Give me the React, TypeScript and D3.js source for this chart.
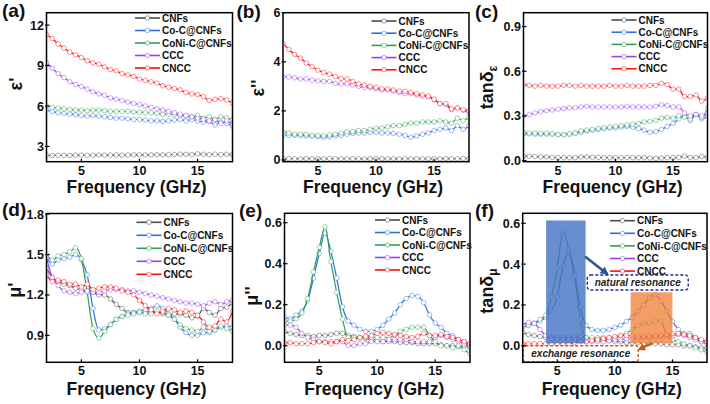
import React from 'react';
import * as d3 from 'd3';

const FREQ = [2, 2.5, 3, 3.5, 4, 4.5, 5, 5.5, 6, 6.5, 7, 7.5, 8, 8.5, 9, 9.5, 10, 10.5, 11, 11.5, 12, 12.5, 13, 13.5, 14, 14.5, 15, 15.5, 16, 16.5, 17, 17.5, 18];
const SERIES = ['CNFs', 'Co-C@CNFs', 'CoNi-C@CNFs', 'CCC', 'CNCC'];
const COLORS = ['#4d4d4d', '#2f6fe3', '#2ea04f', '#9a3ff0', '#ff1010'];

// (a) epsilon'
const EPS_R_CNFS = [2.35, 2.33, 2.35, 2.34, 2.33, 2.35, 2.36, 2.34, 2.35, 2.36, 2.35, 2.36, 2.37, 2.36, 2.37, 2.38, 2.38, 2.37, 2.38, 2.39, 2.38, 2.40, 2.41, 2.43, 2.42, 2.40, 2.45, 2.42, 2.39, 2.43, 2.40, 2.42, 2.40];
const EPS_R_COC = [5.70, 5.60, 5.50, 5.45, 5.40, 5.35, 5.30, 5.25, 5.30, 5.25, 5.20, 5.15, 5.10, 5.10, 5.05, 5.00, 5.00, 4.95, 4.90, 4.90, 4.85, 4.90, 4.95, 5.00, 4.90, 5.00, 4.90, 4.80, 4.85, 4.60, 4.80, 4.70, 4.50];
const EPS_R_CONIC = [6.00, 5.90, 5.85, 5.80, 5.75, 5.70, 5.70, 5.65, 5.70, 5.70, 5.65, 5.60, 5.60, 5.60, 5.60, 5.55, 5.55, 5.50, 5.50, 5.45, 5.40, 5.40, 5.35, 5.30, 5.25, 5.20, 5.30, 5.10, 5.20, 5.00, 5.20, 5.10, 5.00];
const EPS_R_CCC = [9.20, 8.80, 8.40, 8.10, 7.80, 7.60, 7.45, 7.25, 7.05, 6.90, 6.80, 6.60, 6.50, 6.40, 6.30, 6.20, 6.10, 6.00, 5.90, 5.80, 5.70, 5.60, 5.50, 5.40, 5.30, 5.20, 5.10, 5.00, 4.90, 5.00, 4.70, 4.90, 4.60];
const EPS_R_CNCC = [11.30, 11.00, 10.60, 10.30, 10.00, 9.80, 9.60, 9.35, 9.20, 9.10, 8.90, 8.70, 8.60, 8.40, 8.30, 8.20, 8.00, 7.90, 7.80, 7.70, 7.50, 7.40, 7.30, 7.20, 7.00, 6.90, 6.85, 6.70, 6.40, 6.50, 6.55, 6.45, 6.20];

// (b) epsilon''
const EPS_I_CNFS = [0.06, 0.06, 0.05, 0.05, 0.06, 0.05, 0.05, 0.05, 0.06, 0.05, 0.05, 0.05, 0.05, 0.05, 0.04, 0.05, 0.05, 0.05, 0.05, 0.05, 0.04, 0.05, 0.05, 0.05, 0.05, 0.05, 0.05, 0.05, 0.06, 0.05, 0.05, 0.06, 0.05];
const EPS_I_COC = [1.00, 1.00, 1.00, 1.00, 0.98, 0.97, 0.95, 0.93, 0.95, 0.98, 1.00, 1.05, 1.08, 1.10, 1.10, 1.12, 1.12, 1.10, 1.10, 1.08, 1.05, 1.00, 0.93, 0.98, 1.05, 1.10, 1.20, 1.25, 1.30, 1.20, 1.40, 1.25, 1.40];
const EPS_I_CONIC = [1.15, 1.10, 1.05, 1.05, 1.05, 1.00, 1.00, 0.98, 1.02, 1.05, 1.10, 1.15, 1.15, 1.20, 1.20, 1.25, 1.30, 1.30, 1.35, 1.40, 1.40, 1.45, 1.50, 1.50, 1.55, 1.55, 1.55, 1.60, 1.55, 1.50, 1.70, 1.60, 1.75];
const EPS_I_CCC = [3.40, 3.38, 3.35, 3.30, 3.30, 3.25, 3.22, 3.20, 3.20, 3.12, 3.10, 3.10, 3.05, 3.00, 2.95, 2.95, 2.90, 2.85, 2.85, 2.80, 2.75, 2.70, 2.70, 2.65, 2.60, 2.58, 2.45, 2.30, 2.25, 2.05, 2.12, 2.02, 1.95];
const EPS_I_CNCC = [4.75, 4.50, 4.30, 4.15, 3.95, 3.80, 3.66, 3.56, 3.50, 3.40, 3.32, 3.30, 3.20, 3.10, 3.05, 3.00, 2.96, 2.90, 2.90, 2.85, 2.80, 2.80, 2.75, 2.70, 2.65, 2.60, 2.48, 2.30, 2.30, 2.08, 2.12, 2.06, 2.00];

// (c) tan delta epsilon
const TDE_CNFS = [0.030, 0.030, 0.028, 0.025, 0.025, 0.022, 0.020, 0.020, 0.020, 0.020, 0.025, 0.025, 0.022, 0.022, 0.020, 0.020, 0.020, 0.020, 0.022, 0.020, 0.020, 0.020, 0.018, 0.015, 0.018, 0.020, 0.020, 0.022, 0.030, 0.022, 0.020, 0.028, 0.022];
const TDE_COC = [0.180, 0.180, 0.178, 0.178, 0.178, 0.178, 0.175, 0.175, 0.178, 0.185, 0.190, 0.200, 0.205, 0.210, 0.215, 0.220, 0.220, 0.225, 0.230, 0.225, 0.215, 0.205, 0.190, 0.195, 0.210, 0.230, 0.250, 0.280, 0.300, 0.270, 0.310, 0.280, 0.300];
const TDE_CONIC = [0.190, 0.185, 0.185, 0.185, 0.185, 0.180, 0.175, 0.175, 0.180, 0.185, 0.200, 0.205, 0.210, 0.215, 0.220, 0.225, 0.230, 0.235, 0.240, 0.245, 0.250, 0.260, 0.265, 0.270, 0.285, 0.290, 0.285, 0.300, 0.290, 0.280, 0.310, 0.290, 0.350];
const TDE_CCC = [0.300, 0.310, 0.320, 0.330, 0.335, 0.340, 0.345, 0.350, 0.355, 0.355, 0.360, 0.365, 0.360, 0.360, 0.360, 0.360, 0.360, 0.360, 0.365, 0.360, 0.360, 0.360, 0.360, 0.365, 0.375, 0.370, 0.360, 0.360, 0.320, 0.300, 0.310, 0.300, 0.320];
const TDE_CNCC = [0.510, 0.505, 0.500, 0.505, 0.500, 0.500, 0.500, 0.505, 0.505, 0.500, 0.505, 0.500, 0.500, 0.500, 0.500, 0.505, 0.500, 0.500, 0.505, 0.500, 0.500, 0.500, 0.505, 0.505, 0.520, 0.510, 0.480, 0.480, 0.430, 0.430, 0.440, 0.400, 0.420];

// (d) mu'
const MU_R_CNFS = [1.40, 1.33, 1.30, 1.28, 1.27, 1.25, 1.24, 1.23, 1.22, 1.20, 1.20, 1.17, 1.13, 1.10, 1.07, 1.07, 1.07, 1.07, 1.08, 1.07, 1.06, 1.05, 1.06, 1.06, 1.05, 1.03, 1.04, 1.10, 1.07, 1.05, 1.10, 1.11, 1.14];
const MU_R_COC = [1.48, 1.43, 1.46, 1.47, 1.48, 1.50, 1.46, 1.35, 1.10, 0.94, 0.95, 0.98, 1.02, 1.04, 1.06, 1.07, 1.08, 1.09, 1.10, 1.12, 1.10, 1.06, 1.02, 0.96, 0.92, 0.90, 0.90, 0.92, 0.92, 0.94, 0.96, 0.97, 0.96];
const MU_R_CONIC = [1.50, 1.46, 1.49, 1.50, 1.52, 1.55, 1.47, 1.22, 0.95, 0.88, 0.93, 0.98, 1.02, 1.04, 1.05, 1.06, 1.07, 1.06, 1.06, 1.08, 1.07, 1.05, 1.02, 0.98, 0.95, 0.94, 0.93, 0.96, 0.93, 0.94, 0.97, 0.95, 0.93];
const MU_R_CCC = [1.48, 1.33, 1.27, 1.23, 1.22, 1.21, 1.22, 1.23, 1.22, 1.22, 1.23, 1.24, 1.24, 1.24, 1.23, 1.23, 1.22, 1.21, 1.20, 1.19, 1.18, 1.17, 1.16, 1.15, 1.14, 1.14, 1.13, 1.12, 1.14, 1.15, 1.13, 1.15, 1.16];
const MU_R_CNCC = [1.35, 1.30, 1.31, 1.30, 1.28, 1.28, 1.26, 1.28, 1.24, 1.25, 1.26, 1.26, 1.25, 1.23, 1.22, 1.20, 1.16, 1.12, 1.09, 1.06, 1.08, 1.10, 1.09, 1.07, 1.08, 1.07, 1.05, 1.00, 0.96, 0.97, 1.02, 1.00, 1.08];

// (e) mu''
const MU_I_CNFS = [0.070, 0.060, 0.055, 0.050, 0.050, 0.045, 0.050, 0.050, 0.055, 0.060, 0.060, 0.050, 0.045, 0.040, 0.035, 0.030, 0.025, 0.020, 0.020, 0.020, 0.015, 0.015, 0.015, 0.010, 0.010, 0.010, 0.010, 0.005, 0.000, 0.000, -0.005, 0.000, -0.010];
const MU_I_COC = [0.14, 0.13, 0.15, 0.17, 0.22, 0.33, 0.45, 0.55, 0.46, 0.33, 0.19, 0.12, 0.10, 0.08, 0.07, 0.07, 0.08, 0.10, 0.13, 0.16, 0.20, 0.23, 0.245, 0.24, 0.21, 0.15, 0.11, 0.09, 0.06, 0.05, 0.03, 0.02, 0.00];
const MU_I_CONIC = [0.12, 0.12, 0.13, 0.16, 0.23, 0.36, 0.48, 0.58, 0.41, 0.26, 0.13, 0.04, 0.04, 0.04, 0.04, 0.04, 0.04, 0.04, 0.04, 0.05, 0.07, 0.08, 0.09, 0.09, 0.09, 0.05, 0.02, 0.00, 0.00, -0.01, 0.00, -0.02, -0.04];
const MU_I_CCC = [0.10, 0.10, 0.09, 0.06, 0.04, 0.03, 0.02, 0.02, 0.02, 0.02, 0.02, 0.00, 0.00, 0.01, 0.01, 0.02, 0.02, 0.02, 0.03, 0.03, 0.03, 0.03, 0.02, 0.02, 0.02, 0.02, 0.04, 0.05, 0.04, 0.03, 0.02, 0.01, 0.00];
const MU_I_CNCC = [0.015, 0.015, 0.010, 0.010, 0.010, 0.015, 0.020, 0.015, 0.010, 0.020, 0.030, 0.025, 0.030, 0.040, 0.045, 0.050, 0.060, 0.065, 0.060, 0.055, 0.050, 0.045, 0.040, 0.045, 0.060, 0.050, 0.050, 0.055, 0.045, 0.040, 0.030, 0.020, 0.010];

// (f) tan delta mu
const TDM_CNFS = [0.065, 0.055, 0.050, 0.045, 0.040, 0.040, 0.040, 0.040, 0.040, 0.045, 0.045, 0.040, 0.035, 0.030, 0.030, 0.025, 0.020, 0.020, 0.015, 0.015, 0.015, 0.010, 0.010, 0.010, 0.010, 0.005, 0.005, 0.005, 0.000, 0.000, -0.005, -0.010, -0.010];
const TDM_COC = [0.10, 0.10, 0.11, 0.12, 0.14, 0.17, 0.24, 0.39, 0.46, 0.36, 0.19, 0.10, 0.08, 0.075, 0.075, 0.08, 0.09, 0.10, 0.12, 0.14, 0.17, 0.20, 0.235, 0.25, 0.22, 0.17, 0.12, 0.08, 0.06, 0.06, 0.04, 0.02, 0.01];
const TDM_CONIC = [0.09, 0.10, 0.11, 0.13, 0.15, 0.24, 0.38, 0.56, 0.47, 0.34, 0.13, 0.04, 0.04, 0.04, 0.04, 0.04, 0.04, 0.05, 0.06, 0.08, 0.10, 0.11, 0.11, 0.12, 0.12, 0.05, 0.03, 0.02, 0.01, 0.00, -0.01, -0.02, -0.03];
const TDM_CCC = [0.10, 0.115, 0.11, 0.08, 0.05, 0.035, 0.03, 0.03, 0.03, 0.03, 0.025, 0.02, 0.02, 0.02, 0.02, 0.025, 0.03, 0.03, 0.035, 0.035, 0.035, 0.04, 0.04, 0.04, 0.045, 0.05, 0.05, 0.055, 0.05, 0.04, 0.03, 0.02, 0.02];
const TDM_CNCC = [0.01, 0.01, 0.01, 0.01, 0.01, 0.01, 0.01, 0.01, 0.01, 0.015, 0.02, 0.02, 0.025, 0.03, 0.035, 0.04, 0.045, 0.05, 0.05, 0.05, 0.045, 0.045, 0.045, 0.05, 0.05, 0.055, 0.06, 0.06, 0.055, 0.05, 0.04, 0.03, 0.02];

const X_TICKS = [5, 10, 15];
const TICKS_A = [3, 6, 9, 12];
const TICKS_B = [0, 2, 4, 6];
const TICKS_C = [0, 0.3, 0.6, 0.9];
const TICKS_D = [0.9, 1.2, 1.5, 1.8];
const TICKS_E = [0, 0.2, 0.4, 0.6];
const TICKS_F = [0, 0.2, 0.4, 0.6];

const FONT = 'Liberation Sans, Arial, Helvetica, sans-serif';

type Panel = {
  tag: string; tagX: number; tagY: number;
  left: number; right: number; top: number; bottom: number;
  yDomain: [number, number]; yTicks: number[]; fmt: string;
  data: number[][];
  yMain: string; ySub?: string; ylx: number; yly: number;
  xlY: number; legX: number; legY: number; legStep: number;
};

const PANELS: Panel[] = [
  { tag: '(a)', tagX: 2, tagY: 17, left: 46.5, right: 232.5, top: 12.7, bottom: 161.7, yDomain: [1.87, 12.92], yTicks: TICKS_A, fmt: 'd',
    data: [EPS_R_CNFS, EPS_R_COC, EPS_R_CONIC, EPS_R_CCC, EPS_R_CNCC], yMain: "ε'", ylx: 21.5, yly: 84, xlY: 193, legX: 135, legY: 18, legStep: 12.5 },
  { tag: '(b)', tagX: 236.5, tagY: 18, left: 283, right: 469, top: 12.7, bottom: 161.7, yDomain: [-0.07, 6.0], yTicks: TICKS_B, fmt: 'd',
    data: [EPS_I_CNFS, EPS_I_COC, EPS_I_CONIC, EPS_I_CCC, EPS_I_CNCC], yMain: "ε''", ylx: 263.5, yly: 88, xlY: 193, legX: 371.5, legY: 21, legStep: 12.2 },
  { tag: '(c)', tagX: 475, tagY: 18, left: 523.5, right: 707.5, top: 12.7, bottom: 161.7, yDomain: [-0.007, 0.993], yTicks: TICKS_C, fmt: '.1f',
    data: [TDE_CNFS, TDE_COC, TDE_CONIC, TDE_CCC, TDE_CNCC], yMain: 'tanδ', ySub: 'ε', ylx: 493, yly: 87.5, xlY: 193, legX: 611.5, legY: 20, legStep: 12.2 },
  { tag: '(d)', tagX: 2, tagY: 216, left: 46.5, right: 232.5, top: 213.5, bottom: 362.3, yDomain: [0.7, 1.805], yTicks: TICKS_D, fmt: '.1f',
    data: [MU_R_CNFS, MU_R_COC, MU_R_CONIC, MU_R_CCC, MU_R_CNCC], yMain: "μ'", ylx: 20.5, yly: 290, xlY: 394.5, legX: 136.5, legY: 222.3, legStep: 13 },
  { tag: '(e)', tagX: 239, tagY: 217, left: 284.5, right: 470, top: 213.3, bottom: 362.3, yDomain: [-0.081, 0.646], yTicks: TICKS_E, fmt: '.1f',
    data: [MU_I_CNFS, MU_I_COC, MU_I_CONIC, MU_I_CCC, MU_I_CNCC], yMain: "μ''", ylx: 258, yly: 296, xlY: 394.5, legX: 375, legY: 220, legStep: 12.5 },
  { tag: '(f)', tagX: 475, tagY: 217, left: 522.7, right: 707, top: 213.3, bottom: 362.3, yDomain: [-0.081, 0.649], yTicks: TICKS_F, fmt: '.1f',
    data: [TDM_CNFS, TDM_COC, TDM_CONIC, TDM_CCC, TDM_CNCC], yMain: 'tanδ', ySub: 'μ', ylx: 493, yly: 291, xlY: 394.5, legX: 610, legY: 220.7, legStep: 12.6 },
];

// annotation geometry of panel (f), in data units (GHz, tanδμ)
const NATURAL_BAND = { x0: 4.03, x1: 7.46, y0: 0.012, y1: 0.614 };
const EXCHANGE_BAND = { x0: 11.37, x1: 15.0, y0: 0.012, y1: 0.262 };
const NATURAL_BOX = { x0: 7.61, x1: 16.37, y0: 0.273, y1: 0.347 };
const EXCHANGE_BOX = { x0: 2.05, x1: 12.03, y0: -0.078, y1: 0.0 };
const NATURAL_ARROW = { x0: 7.41, y0: 0.437, x1: 9.35, y1: 0.352 };
const EXCHANGE_ARROW = { x0: 13.2, y0: 0.012, x1: 12.1, y1: -0.018 };

function PanelView({ p, idx }: { p: Panel; idx: number }) {
  const x = d3.scaleLinear().domain([2, 18]).range([p.left, p.right]);
  const y = d3.scaleLinear().domain(p.yDomain).range([p.bottom, p.top]);
  const fmt = d3.format(p.fmt);
  const line = d3.line<[number, number]>().x(d => x(d[0])).y(d => y(d[1])).curve(d3.curveMonotoneX);
  const clipId = `clip${idx}`;
  const cx = (p.left + p.right) / 2;
  return (
    <g>
      <defs>
        <clipPath id={clipId}>
          <rect x={p.left} y={p.top} width={p.right - p.left} height={p.bottom - p.top} />
        </clipPath>
      </defs>
      <g clipPath={`url(#${clipId})`}>
        {p.data.map((vals, si) => {
          const pts: [number, number][] = FREQ.map((f, i) => [f, vals[i]]);
          return (
            <g key={si}>
              <path d={line(pts) || ''} fill="none" stroke={COLORS[si]} strokeWidth={1.2} />
              {pts.map((d, i) => (
                <circle key={i} cx={x(d[0])} cy={y(d[1])} r={2.3} fill="#fff" stroke={COLORS[si]} strokeOpacity={0.5} strokeWidth={0.9} />
              ))}
            </g>
          );
        })}
        {idx === 5 && (
          <g>
            <rect x={x(NATURAL_BAND.x0)} y={y(NATURAL_BAND.y1)} width={x(NATURAL_BAND.x1) - x(NATURAL_BAND.x0)} height={y(NATURAL_BAND.y0) - y(NATURAL_BAND.y1)} fill="#4472c4" opacity={0.8} />
            <rect x={x(EXCHANGE_BAND.x0)} y={y(EXCHANGE_BAND.y1)} width={x(EXCHANGE_BAND.x1) - x(EXCHANGE_BAND.x0)} height={y(EXCHANGE_BAND.y0) - y(EXCHANGE_BAND.y1)} fill="#ed7d31" opacity={0.75} />
          </g>
        )}
      </g>
      {idx === 5 && (
        <g fontFamily={FONT} fontWeight="bold" fontStyle="italic" fontSize={10}>
          <defs>
            <marker id="arrBlue" viewBox="0 0 10 10" refX={8} refY={5} markerWidth={3.2} markerHeight={3.2} orient="auto">
              <path d="M0,0 L10,5 L0,10 z" fill="#2f5597" />
            </marker>
            <marker id="arrOrange" viewBox="0 0 10 10" refX={8} refY={5} markerWidth={3.5} markerHeight={3.5} orient="auto">
              <path d="M0,0 L10,5 L0,10 z" fill="#c55a11" />
            </marker>
          </defs>
          <line x1={x(NATURAL_ARROW.x0)} y1={y(NATURAL_ARROW.y0)} x2={x(NATURAL_ARROW.x1)} y2={y(NATURAL_ARROW.y1)} stroke="#2f5597" strokeWidth={2.6} markerEnd="url(#arrBlue)" />
          <line x1={x(EXCHANGE_ARROW.x0)} y1={y(EXCHANGE_ARROW.y0)} x2={x(EXCHANGE_ARROW.x1)} y2={y(EXCHANGE_ARROW.y1)} stroke="#c55a11" strokeWidth={2.2} markerEnd="url(#arrOrange)" />
          <rect x={x(NATURAL_BOX.x0)} y={y(NATURAL_BOX.y1)} width={x(NATURAL_BOX.x1) - x(NATURAL_BOX.x0)} height={y(NATURAL_BOX.y0) - y(NATURAL_BOX.y1)} rx={3} fill="#fff" stroke="#1c2a9e" strokeWidth={1.4} strokeDasharray="3,2" />
          <text x={(x(NATURAL_BOX.x0) + x(NATURAL_BOX.x1)) / 2} y={(y(NATURAL_BOX.y0) + y(NATURAL_BOX.y1)) / 2 + 3.5} textAnchor="middle" fill="#222">natural resonance</text>
          <rect x={x(EXCHANGE_BOX.x0)} y={y(EXCHANGE_BOX.y1)} width={x(EXCHANGE_BOX.x1) - x(EXCHANGE_BOX.x0)} height={y(EXCHANGE_BOX.y0) - y(EXCHANGE_BOX.y1)} rx={2} fill="#fff" stroke="#c55a11" strokeWidth={1.4} strokeDasharray="3,2" />
          <text x={(x(EXCHANGE_BOX.x0) + x(EXCHANGE_BOX.x1)) / 2} y={(y(EXCHANGE_BOX.y0) + y(EXCHANGE_BOX.y1)) / 2 + 3.5} textAnchor="middle" fill="#222">exchange resonance</text>
        </g>
      )}
      <rect x={p.left} y={p.top} width={p.right - p.left} height={p.bottom - p.top} fill="none" stroke="#000" strokeWidth={1.5} />
      <g fontFamily={FONT} fontWeight="bold" fontSize={12.5} fill="#111">
        {p.yTicks.map(t => (
          <g key={t}>
            <line x1={p.left - 1.5} x2={p.left + 3} y1={y(t)} y2={y(t)} stroke="#000" strokeWidth={1.2} />
            <text x={p.left - 2.5} y={y(t) + 4.5} textAnchor="end">{fmt(t)}</text>
          </g>
        ))}
        {X_TICKS.map(t => (
          <g key={t}>
            <line x1={x(t)} x2={x(t)} y1={p.bottom} y2={p.bottom - 3} stroke="#000" strokeWidth={1.2} />
            <text x={x(t)} y={p.bottom + 13} textAnchor="middle">{t}</text>
          </g>
        ))}
      </g>
      <text x={cx - 3} y={p.xlY} textAnchor="middle" fontFamily={FONT} fontWeight="bold" fontSize={17.5} fill="#111">Frequency (GHz)</text>
      <text transform={`translate(${p.ylx},${p.yly}) rotate(-90)`} textAnchor="middle" fontFamily={FONT} fontWeight="bold" fontSize={18} fill="#111">
        {p.yMain}
        {p.ySub && <tspan fontSize={12} dy={4}>{p.ySub}</tspan>}
      </text>
      <text x={p.tagX} y={p.tagY} fontFamily={FONT} fontWeight="bold" fontSize={19} fill="#111">{p.tag}</text>
      <g fontFamily={FONT} fontWeight="bold" fontSize={10} fill="#111">
        {SERIES.map((s, si) => {
          const ly = p.legY + si * p.legStep;
          return (
            <g key={s}>
              <line x1={p.legX} x2={p.legX + 25} y1={ly} y2={ly} stroke={COLORS[si]} strokeWidth={1.6} />
              <circle cx={p.legX + 12.5} cy={ly} r={2.2} fill="#fff" stroke={COLORS[si]} strokeOpacity={0.6} strokeWidth={0.9} />
              <text x={p.legX + 27} y={ly + 3.6}>{s}</text>
            </g>
          );
        })}
      </g>
    </g>
  );
}

export default function App() {
  return (
    <svg width={710} height={404} viewBox="0 0 710 404" style={{ position: 'absolute', left: 0, top: 0, background: '#fff' }}>
      <rect x={0} y={0} width={710} height={404} fill="#fff" />
      {PANELS.map((p, i) => <PanelView key={i} p={p} idx={i} />)}
    </svg>
  );
}
